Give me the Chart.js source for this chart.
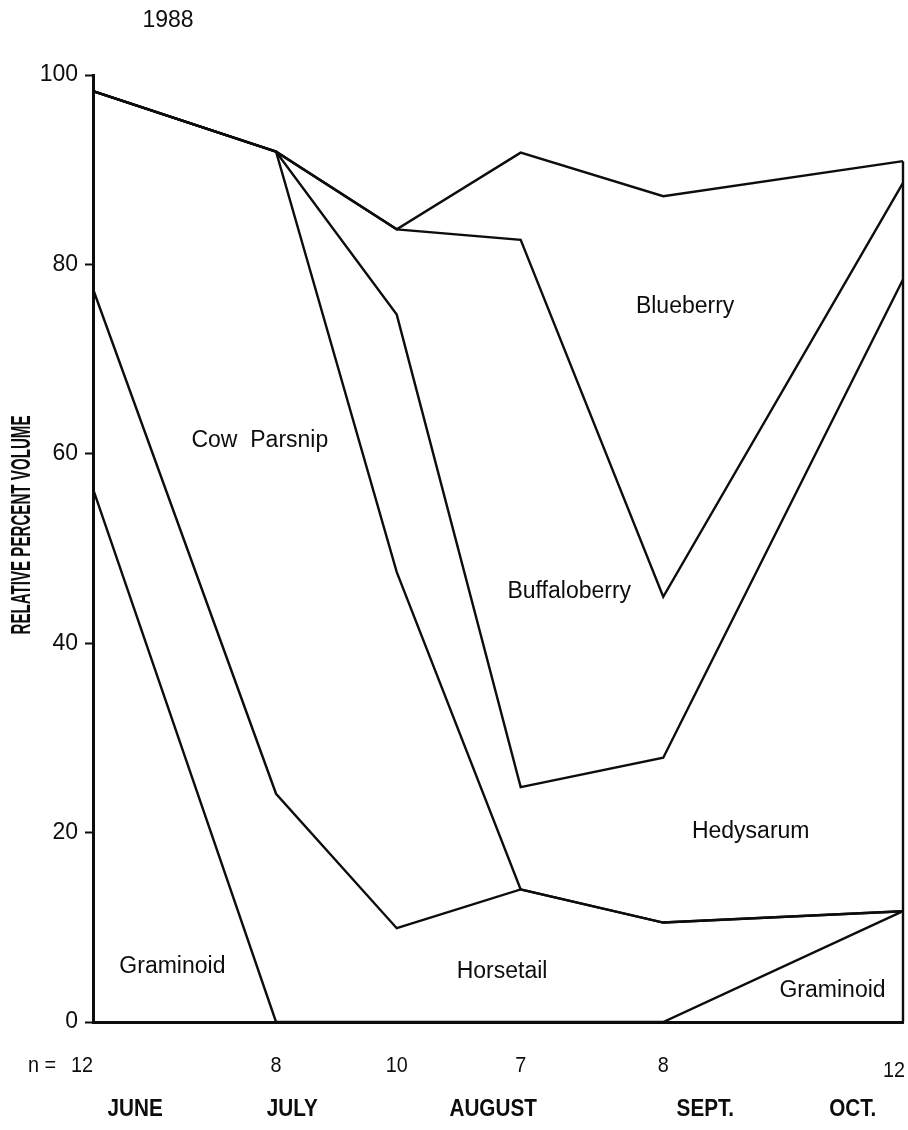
<!DOCTYPE html>
<html>
<head>
<meta charset="utf-8">
<title>1988 - relative percent volume</title>
<script src="https://cdn.jsdelivr.net/npm/chart.js@4/dist/chart.umd.min.js"></script>
<style>
	html, body { margin: 0; background: #fff; }
	canvas { display: block; }
</style>
</head>
<body>
<canvas id="chart" width="908" height="1130"></canvas>
<script>
// sampling dates along the season (0 = June sample, 100 = October sample)
const samplePos = [0, 22.6, 37.5, 52.8, 70.4, 100];
const sampleN = [12, 8, 10, 7, 8, 12];
const months = ["JUNE", "JULY", "AUGUST", "SEPT.", "OCT."];
const monthPos = [5.2, 24.6, 49.4, 75.6, 93.8];

// relative percent volume of each food, bottom of the stack first
const graminoid = [56.3, 0, 0, 0, 0, 11.7];
const horsetail = [21.1, 24.1, 9.9, 14.0, 10.5, 0];
const cowParsnip = [20.9, 67.8, 37.6, 0, 0, 0];
const hedysarum = [0, 0, 27.2, 10.8, 17.4, 66.7];
const buffaloberry = [0, 0, 9.0, 57.8, 17.0, 10.2];
const blueberry = [0, 0, 0, 9.2, 42.3, 2.3];

// names written inside the bands (chart units)
const bandNames = ["Graminoid", "Cow  Parsnip", "Horsetail", "Hedysarum", "Buffaloberry", "Blueberry", "Graminoid"];
const bandX = [9.8, 20.6, 50.5, 81.2, 58.8, 73.1, 91.3];
const bandY = [5.8, 61.4, 5.3, 20.1, 45.4, 75.5, 3.3];

const FONT = "'Liberation Sans', Arial, sans-serif";
const INK = "#0d0d0d";

// cumulative tops of the stacked bands
const layers = [graminoid, horsetail, cowParsnip, hedysarum, buffaloberry, blueberry];
const tops = [];
let running = samplePos.map(() => 0);
layers.forEach((layer) => {
	running = running.map((v, i) => Math.round((v + layer[i]) * 10) / 10);
	tops.push(running);
});

const last = samplePos.length - 1;
const datasets = tops.map((top) => ({
	data: samplePos.map((x, i) => ({ x: x, y: top[i] })),
	borderColor: INK,
	borderWidth: 2.4,
	pointRadius: 0,
	fill: false,
	tension: 0,
	clip: false
}));
// closing edge at the October sample
datasets.push({
	data: [{ x: samplePos[last], y: 0 }, { x: samplePos[last], y: tops[tops.length - 1][last] }],
	borderColor: INK,
	borderWidth: 2.4,
	pointRadius: 0,
	fill: false,
	clip: false
});

function text(ctx, str, x, y, size, opts) {
	opts = opts || {};
	ctx.save();
	ctx.translate(x, y);
	if (opts.rotate) ctx.rotate(opts.rotate);
	ctx.scale(opts.squeeze || 1, 1);
	ctx.font = (opts.bold ? "bold " : "") + size + "px " + FONT;
	ctx.fillStyle = INK;
	ctx.textAlign = opts.align || "center";
	ctx.textBaseline = "middle";
	ctx.fillText(str, 0, 0);
	ctx.restore();
}

const labels = {
	id: "labels",
	afterDraw: function (chart) {
		const ctx = chart.ctx;
		const xs = chart.scales.x;
		const ys = chart.scales.y;

		text(ctx, "1988", 168, 21, 23);
		text(ctx, "RELATIVE PERCENT VOLUME", 23, 525, 27, { bold: true, rotate: -Math.PI / 2, squeeze: 0.56 });

		// band names
		bandNames.forEach((name, i) => {
			text(ctx, name, xs.getPixelForValue(bandX[i]), ys.getPixelForValue(bandY[i]), 23);
		});

		// sample sizes
		text(ctx, "n =", 56, 1066, 22, { align: "right", squeeze: 0.9 });
		sampleN.forEach((n, i) => {
			const px = xs.getPixelForValue(samplePos[i]);
			if (i === last) text(ctx, String(n), px + 2, 1071, 22, { align: "right", squeeze: 0.9 });
			else text(ctx, String(n), px + (i === 0 ? -11 : 0), 1066, 22, { squeeze: 0.9 });
		});

		// months
		months.forEach((m, i) => {
			text(ctx, m, xs.getPixelForValue(monthPos[i]), 1110, 23, { bold: true, squeeze: 0.9 });
		});
	}
};

const chart = new Chart(document.getElementById("chart").getContext("2d"), {
	type: "line",
	data: { datasets: datasets },
	options: {
		responsive: false,
		devicePixelRatio: 1,
		animation: false,
		layout: { padding: { top: 75, right: 5, left: 0, bottom: 0 } },
		plugins: {
			legend: { display: false },
			tooltip: { enabled: false }
		},
		scales: {
			x: {
				type: "linear",
				min: 0,
				max: 100,
				afterFit: (scale) => { scale.height = 108; },
				ticks: { display: false },
				grid: { drawOnChartArea: false, drawTicks: false },
				border: { color: INK, width: 3 }
			},
			y: {
				min: 0,
				max: 100,
				afterFit: (scale) => { scale.width = 93; },
				ticks: {
					stepSize: 20,
					color: INK,
					padding: 7,
					font: { family: FONT, size: 23 }
				},
				grid: { drawOnChartArea: false, tickLength: 8, tickWidth: 2, tickColor: INK },
				border: { color: INK, width: 3 }
			}
		}
	},
	plugins: [labels]
});
</script>
</body>
</html>
